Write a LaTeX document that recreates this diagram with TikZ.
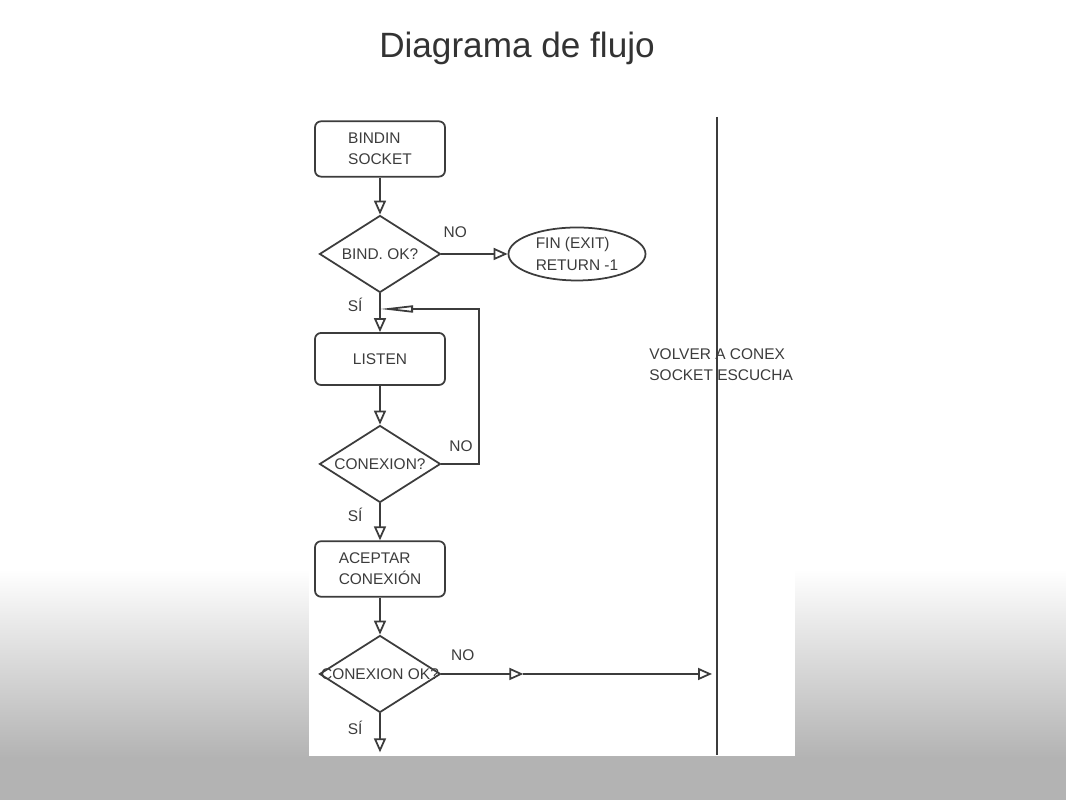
\documentclass[tikz,border=0pt]{standalone}
\usepackage{fontspec}
\setmainfont{Liberation Sans}
\usetikzlibrary{calc, positioning, arrows.meta, shapes.geometric}
\definecolor{bggrey}{HTML}{B3B3B3}
\definecolor{inkgrey}{HTML}{3C3C3C}
\definecolor{titlegrey}{HTML}{333333}
\newcommand{\dtext}[1]{\makebox[0pt]{#1}}

\begin{document}
\begin{tikzpicture}
			[x=0.1mm, y=-0.1mm, node distance=10.5mm,
			>={Triangle[open, length=1.4mm, width=1.2mm, fill=white]},
			every node/.style={font=\fontsize{4.4pt}{6pt}\selectfont, text=inkgrey},
			proc/.style={draw=inkgrey, rectangle, rounded corners=0.6mm, minimum width=13mm, minimum height=5.2mm, align=left, line width=.5pt},
			decision/.style={draw=inkgrey, diamond, minimum width=12.1mm, minimum height=7.7mm, inner sep=0pt, line width=.5pt},
			term/.style={draw=inkgrey, ellipse, minimum width=13.7mm, minimum height=5.3mm, inner sep=0pt, align=left, line width=.5pt},
			flow/.style={->, draw=inkgrey, line width=.5pt},
			loopflow/.style={-{Triangle[open, length=3.3mm, width=0.7mm, fill=white]}, draw=inkgrey, line width=.5pt}]
			% background %
			\fill[white] (0,0) rectangle (1066,570);
			\shade[top color=white, bottom color=bggrey] (0,569) rectangle (1066,758);
			\fill[bggrey] (0,757) rectangle (1066,800);
			\fill[white] (309,100) rectangle (795,756);
			\useasboundingbox (0,0) rectangle (1066,800);

			\node[font=\fontsize{10pt}{12pt}\selectfont, text=titlegrey, anchor=base] (title) at (517,58) {Diagrama de flujo};

			% nodes %
			\node[proc] (bindsock) at (380,149) {BINDIN\\SOCKET};
			\node[decision, below of = bindsock] (bindok) {\dtext{BIND. OK?}};
			\node[term, right of = bindok, node distance=19.7mm] (fin) {FIN (EXIT)\\RETURN -1};
			\node[proc, below of = bindok] (listen) {LISTEN};
			\node[decision, below of = listen] (cnx) {\dtext{CONEXION?}};
			\node[proc, below of = cnx] (accept) {ACEPTAR\\CONEXIÓN};
			\node[decision, below of = accept] (cnxok) {\dtext{CONEXION OK?}};
			\node[anchor=west, align=left] (volver) at (637,365) {VOLVER A CONEX\\SOCKET ESCUCHA};

			\coordinate (loopc) at (479,309);
			\coordinate[right=8.2mm of cnxok] (mid);
			\coordinate[below=3.9mm of cnxok] (out);
			\coordinate (vtop) at (717,117);
			\coordinate (vbot) at (717,755);

			% edges %
			\draw[flow] (bindsock) -- (bindok);
			\draw[flow] (bindok) -- node[pos=.21, above=.4mm] {NO} (fin);
			\draw[flow] (bindok) -- node[pos=.29, left=.5mm] {SÍ} (listen);
			\draw[flow] (listen) -- (cnx);
			\draw[loopflow] (cnx.east) -- node[pos=.52, above=0mm] {NO} (cnx.east -| loopc) -- (loopc) -- (loopc -| listen.north);
			\draw[flow] (cnx) -- node[pos=.3, left=.5mm] {SÍ} (accept);
			\draw[flow] (accept) -- (cnxok);
			\draw[flow] (cnxok) -- node[pos=.26, above=.1mm] {NO} (mid);
			\draw[flow, shorten >=0.5mm] (mid) -- (mid -| vtop);
			\draw[flow] (cnxok) -- node[pos=.36, left=.5mm] {SÍ} (out);
			\draw[draw=inkgrey, line width=.6pt] (vtop) -- (vbot);
\end{tikzpicture}
\end{document}
